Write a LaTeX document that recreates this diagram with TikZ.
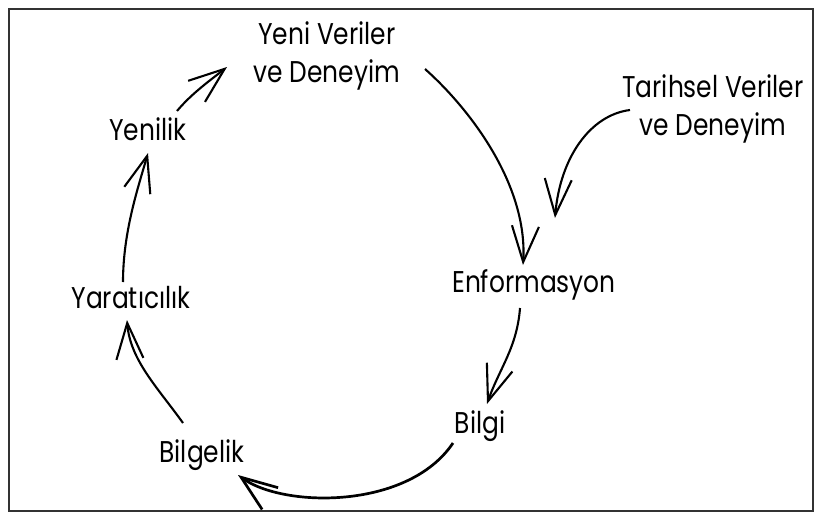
\documentclass[tikz,border=0pt]{standalone}
\usepackage{fontspec}
\setmainfont{Poppins}[FakeStretch=0.83]
\usetikzlibrary{arrows.meta,calc}

\begin{document}
\begin{tikzpicture}[x=1pt,y=-1pt]
        % styles
        \tikzstyle{stage}=[inner sep=0pt, font=\fontsize{30}{38}\selectfont, anchor=base, align=center]
        \tikzstyle{flow}=[-{Straight Barb[length=36pt,width=27pt]}, line width=2.1pt]

        % frame
        \useasboundingbox (0,0) rectangle (821,519);
        \draw[line width=2pt, black!80] (9,9) rectangle (813,511);

        % stages
        \node[stage] (yeni) at (327,82) {Yeni Veriler\\ve Deneyim};
        \node[stage] (tarih) at (713,135) {Tarihsel Veriler\\ve Deneyim};
        \node[stage] (enf) at (534,292) {Enformasyon};
        \node[stage] (bilgi) at (480,433) {Bilgi};
        \node[stage] (bilgelik) at (202,462) {Bilgelik};
        \node[stage] (yarat) at (131,308) {Yaratıcılık};
        \node[stage] (yenilik) at (148,140) {Yenilik};

        % cycle
        \draw[flow] ($(yeni.base)+(98,-13)$) .. controls +(45,40) and +(5,-80) .. ($(enf.base)+(-11,-27)$);
        \draw[flow] ($(tarih.base)+(-83,-25)$) .. controls +(-40,5) and +(5,-60) .. ($(enf.base)+(21,-74)$);
        \draw[flow] ($(enf.base)+(-14,16)$) .. controls +(-3,40) and +(12,-35) .. ($(bilgi.base)+(7,-29)$);
        \draw[flow, line width=2.7pt] ($(bilgi.base)+(-27,10)$) .. controls +(-45,67) and +(45,33) .. ($(bilgelik.base)+(36,13)$);
        \draw[flow] ($(bilgelik.base)+(-19,-39)$) .. controls +(-25,-35) and +(3,40) .. ($(yarat.base)+(-4,12)$);
        \draw[flow] ($(yarat.base)+(-8,-26)$) .. controls +(0,-50) and +(-10,35) .. ($(yenilik.base)+(0,13)$);
        \draw[flow] ($(yenilik.base)+(29,-29)$) .. controls +(15,-18) and +(-15,12) .. ($(yeni.base)+(-100,-15)$);
    \end{tikzpicture}
\end{document}
